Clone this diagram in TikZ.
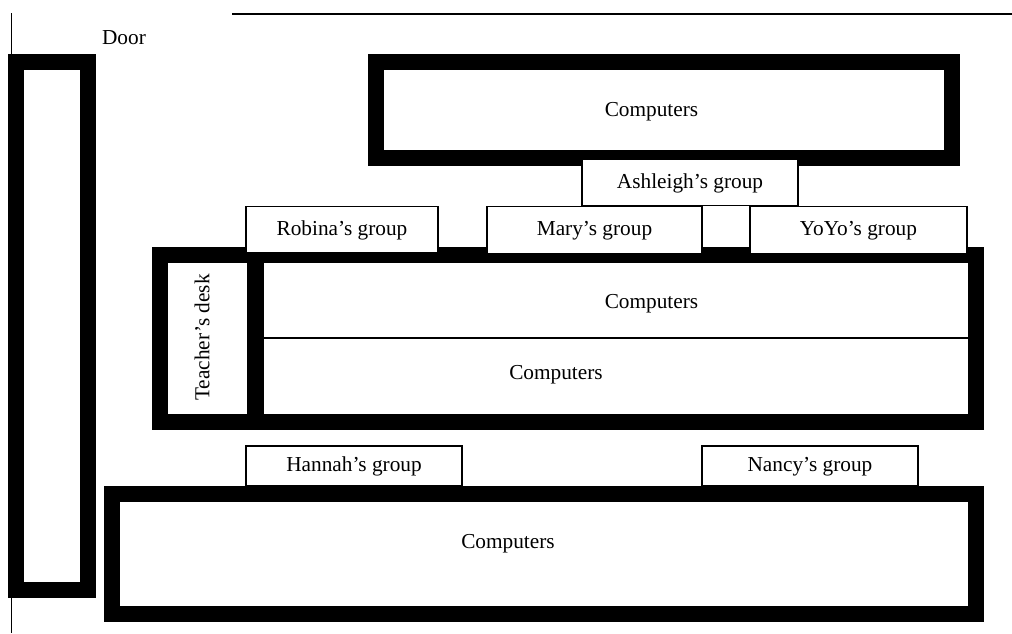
\documentclass[tikz,border=0pt]{standalone}
\usepackage{fontspec}
\setmainfont{Liberation Serif}
\begin{document}
\begin{tikzpicture}[x=1pt,y=-1pt,
  every node/.style={font=\fontsize{21.3}{25}\selectfont, inner sep=0pt},
  wall/.style={draw=black, line width=1.4pt},
  bench/.style={draw=black, line width=16pt},
  grp/.style={draw=black, fill=white, line width=1.2pt, minimum height=46.5pt,
    text height=14.5pt, text depth=3.5pt},
  lbl/.style={}]
\useasboundingbox (0,0) rectangle (1012,633);

% room walls
\draw[wall] (232,14) -- (1012,14);
\draw[wall] (11.5,13) -- (11.5,633);
\node[lbl] (door) at (124,38) {Door};

% benches along the left side and the three rows
\draw[bench] (16,62) rectangle (88,590);
\draw[bench] (376,62) rectangle (952,158);
\draw[bench] (160,255) rectangle (976,422);
\draw[bench] (112,494) rectangle (976,614);

% teacher's desk divider and the split of the middle row
\draw[draw=black, line width=17pt] (255.5,247) -- (255.5,430);
\draw[line width=1.2pt] (264,338) -- (968,338);

\node[lbl] (pcTop) at (651.5,112) {Computers};
\node[lbl] (pcMidA) at (651.5,303.5) {Computers};
\node[lbl] (pcMidB) at (556,374.5) {Computers};
\node[lbl] (pcBot) at (508,543.5) {Computers};
\node[lbl, rotate=90] (desk) at (202,337.5) {Teacher’s desk};

% group tables
\node[grp, minimum width=216pt] (ash) at (690,182.5) {Ashleigh’s group};
\node[grp, minimum width=192pt] (rob) at (342,229.5) {Robina’s group};
\node[grp, minimum width=215pt] (mary) at (594.5,230) {Mary’s group};
\node[grp, minimum width=217pt] (yoyo) at (858.5,230) {YoYo’s group};
\node[grp, minimum width=216pt, minimum height=40pt] (hannah) at (354,466) {Hannah’s group};
\node[grp, minimum width=216pt, minimum height=40pt] (nancy) at (810,466) {Nancy’s group};
\end{tikzpicture}
\end{document}
